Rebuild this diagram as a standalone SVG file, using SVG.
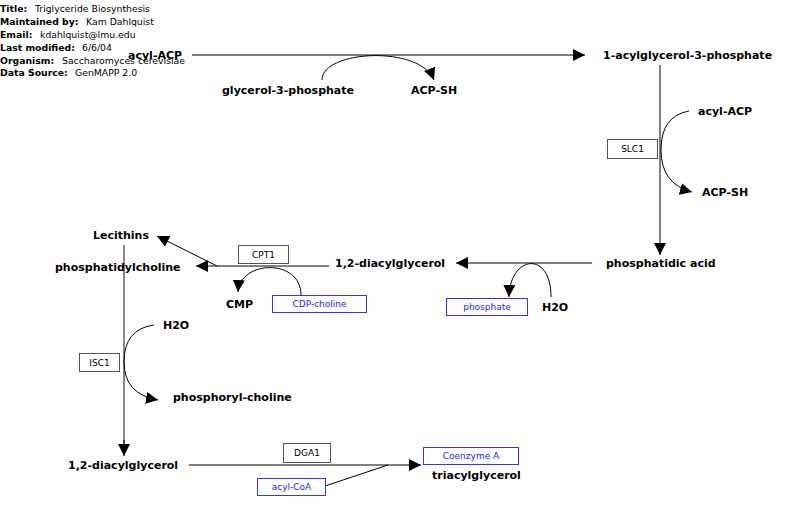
<svg xmlns="http://www.w3.org/2000/svg" width="800" height="509" viewBox="0 0 800 509">
<defs>
<style>
.hdr{font-family:"DejaVu Sans",sans-serif;font-size:9.3px;fill:#000}
.hb{font-weight:bold}
.lbl{font-family:"DejaVu Sans",sans-serif;font-size:11px;font-weight:bold;fill:#000}
.gene rect{fill:#fff;stroke:#555;stroke-width:1}
.gene text{font-family:"DejaVu Sans",sans-serif;font-size:9px;fill:#000;text-anchor:middle}
.met rect{fill:#fff;stroke:#33f;stroke-width:1}
.met text{font-family:"DejaVu Sans",sans-serif;font-size:9px;fill:#22f;text-anchor:middle}
.ln{fill:none;stroke:#000;stroke-width:1}
.gray{stroke:#888;stroke-width:2}
</style>
<marker id="ah" viewBox="0 0 10 10" refX="10" refY="5" markerWidth="12" markerHeight="12" markerUnits="userSpaceOnUse" orient="auto">
<path d="M0,0 L10,5 L0,10 z" fill="#000"/>
</marker>
</defs>
<rect width="800" height="509" fill="#fff"/>
<g id="header">
<text class="hdr" x="0" y="12"><tspan class="hb">Title:</tspan><tspan x="35">Triglyceride Biosynthesis</tspan></text>
<text class="hdr" x="0" y="25"><tspan class="hb">Maintained by:</tspan><tspan x="86">Kam Dahlquist</tspan></text>
<text class="hdr" x="0" y="38"><tspan class="hb">Email:</tspan><tspan x="40">kdahlquist@lmu.edu</tspan></text>
<text class="hdr" x="0" y="51"><tspan class="hb">Last modified:</tspan><tspan x="82">6/6/04</tspan></text>
<text class="hdr" x="0" y="64"><tspan class="hb">Organism:</tspan><tspan x="62">Saccharomyces cerevisiae</tspan></text>
<text class="hdr" x="0" y="76"><tspan class="hb">Data Source:</tspan><tspan x="75">GenMAPP 2.0</tspan></text>
</g>
<g id="connectors">
<line class="ln" x1="192" y1="55" x2="585" y2="55" marker-end="url(#ah)"/>
<path class="ln" d="M322,80 C322,50 420,45 434,80" marker-end="url(#ah)"/>
<line class="ln" x1="660" y1="65" x2="660" y2="255" marker-end="url(#ah)"/>
<path class="ln" d="M689,111 Q661,116 661,150 Q661,184 692,192" marker-end="url(#ah)"/>
<line class="ln" x1="592" y1="263" x2="456" y2="263" marker-end="url(#ah)"/>
<path class="ln" d="M551,297 C551,250 510,255 509,297" marker-end="url(#ah)"/>
<line class="ln" x1="329" y1="266" x2="196" y2="266" marker-end="url(#ah)"/>
<line class="ln" x1="217" y1="266" x2="157" y2="236" marker-end="url(#ah)"/>
<path class="ln" d="M301,295 C301,258 240,260 238,292" marker-end="url(#ah)"/>
<line class="ln gray" x1="124" y1="245" x2="124" y2="445"/>
<line class="ln" x1="124" y1="440" x2="124" y2="456" marker-end="url(#ah)"/>
<path class="ln" d="M154,325 Q124,329 124,362 Q124,394 158,400" marker-end="url(#ah)"/>
<line class="ln" x1="189" y1="465" x2="421" y2="465" marker-end="url(#ah)"/>
<line class="ln" x1="325" y1="486" x2="388" y2="465"/>
</g>
<g id="acyl-ACP-1"><text class="lbl" x="128" y="59">acyl-ACP</text></g>
<g id="acylglycerol-3-phosphate"><text class="lbl" x="603" y="59">1-acylglycerol-3-phosphate</text></g>
<g id="glycerol-3-phosphate"><text class="lbl" x="222" y="94">glycerol-3-phosphate</text></g>
<g id="ACP-SH-1"><text class="lbl" x="411" y="94">ACP-SH</text></g>
<g id="acyl-ACP-2"><text class="lbl" x="698" y="115">acyl-ACP</text></g>
<g id="ACP-SH-2"><text class="lbl" x="702" y="196">ACP-SH</text></g>
<g id="SLC1" class="gene"><rect x="607.5" y="139.5" width="50" height="19"/><text x="632.5" y="152">SLC1</text></g>
<g id="phosphatidic-acid"><text class="lbl" x="606" y="267">phosphatidic acid</text></g>
<g id="diacylglycerol-1"><text class="lbl" x="335" y="267">1,2-diacylglycerol</text></g>
<g id="phosphate" class="met"><rect x="446.5" y="298.5" width="81" height="17"/><text x="487" y="310">phosphate</text></g>
<g id="H2O-1"><text class="lbl" x="542" y="311">H2O</text></g>
<g id="Lecithins"><text class="lbl" x="93" y="239">Lecithins</text></g>
<g id="phosphatidylcholine"><text class="lbl" x="55" y="271">phosphatidylcholine</text></g>
<g id="CPT1" class="gene"><rect x="238.5" y="245.5" width="50" height="18"/><text x="263.5" y="258">CPT1</text></g>
<g id="CMP"><text class="lbl" x="226" y="308">CMP</text></g>
<g id="CDP-choline" class="met"><rect x="272.5" y="295.5" width="94" height="17"/><text x="319.5" y="307">CDP-choline</text></g>
<g id="H2O-2"><text class="lbl" x="163" y="329">H2O</text></g>
<g id="ISC1" class="gene"><rect x="79.5" y="353.5" width="40" height="18"/><text x="99.5" y="366">ISC1</text></g>
<g id="phosphoryl-choline"><text class="lbl" x="173" y="401">phosphoryl-choline</text></g>
<g id="diacylglycerol-2"><text class="lbl" x="68" y="469">1,2-diacylglycerol</text></g>
<g id="DGA1" class="gene"><rect x="283.5" y="443.5" width="47" height="19"/><text x="307" y="456">DGA1</text></g>
<g id="Coenzyme-A" class="met"><rect x="423.5" y="447.5" width="95" height="17"/><text x="471" y="459">Coenzyme A</text></g>
<g id="triacylglycerol"><text class="lbl" x="432" y="479">triacylglycerol</text></g>
<g id="acyl-CoA" class="met"><rect x="257.5" y="478.5" width="68" height="17"/><text x="291.5" y="490">acyl-CoA</text></g>
</svg>
